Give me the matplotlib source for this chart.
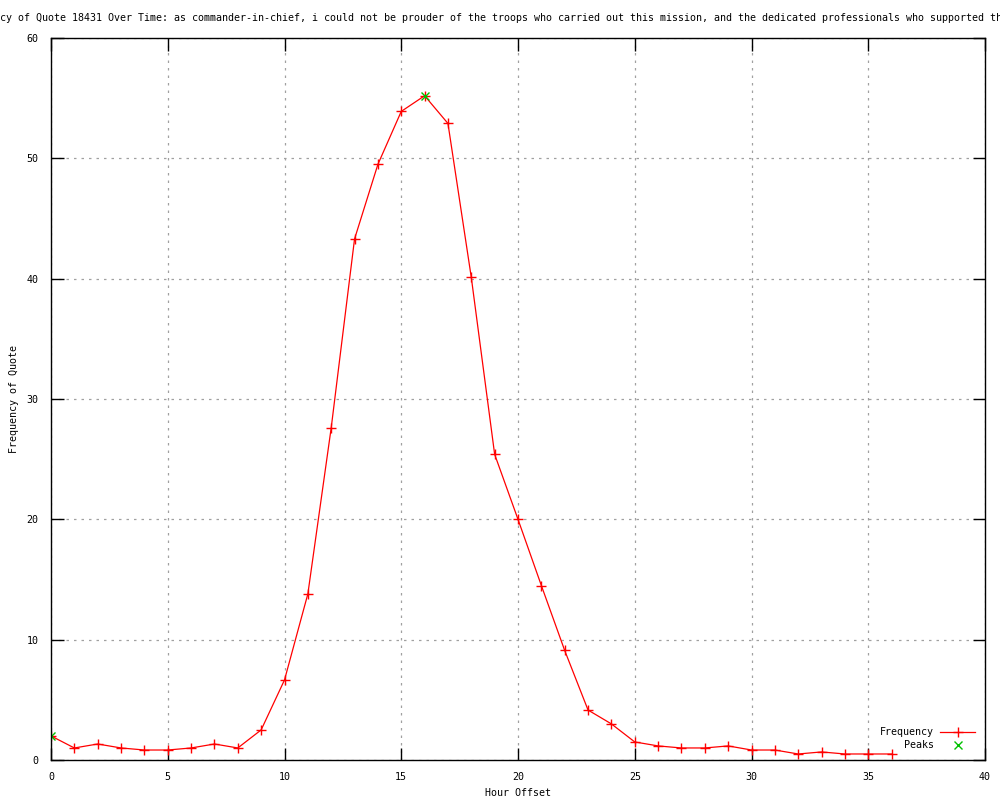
import matplotlib.pyplot as plt
import numpy as np

plt.rcParams['font.family'] = ['DejaVu Sans Mono', 'DejaVu Sans']
plt.rcParams['font.size'] = 7.2

# data
hours = np.arange(0, 37)
freq = [2.0, 1.0, 1.33, 1.0, 0.83, 0.83, 1.0, 1.33, 1.0, 2.5,
        6.65, 13.8, 27.6, 43.3, 49.5, 53.9, 55.2, 52.9, 40.1, 25.4,
        20.0, 14.5, 9.1, 4.15, 3.0, 1.5, 1.17, 1.0, 1.0, 1.17,
        0.83, 0.83, 0.5, 0.67, 0.5, 0.5, 0.5]
peak_hours = [0, 16]
peak_vals = [2.0, 55.2]

title = ("Frequency of Quote 18431 Over Time: as commander-in-chief, i could not be "
         "prouder of the troops who carried out this mission, and the dedicated "
         "professionals who supported them.")

fig = plt.figure(figsize=(10, 8), dpi=100)
ax = fig.add_axes([0.051, 0.05, 0.934, 0.9025])

ax.plot(hours, freq, color='#ff0000', lw=0.9, marker='+', ms=6.5, mew=1.0,
        label='Frequency')
ax.plot(peak_hours, peak_vals, ls='none', color='#00c000', marker='x', ms=5.5,
        mew=1.0, label='Peaks')

ax.set_xlim(0, 40)
ax.set_ylim(0, 60)
ax.set_xticks(np.arange(0, 41, 5))
ax.set_yticks(np.arange(0, 61, 10))
ax.tick_params(direction='in', length=9, width=1, top=True, right=True, pad=9)
ax.grid(True, color='#a0a0a0', ls=(0, (2, 4)), lw=0.9)
for s in ax.spines.values():
    s.set_linewidth(1)

ax.set_xlabel('Hour Offset', va='center')
ax.set_ylabel('Frequency of Quote', va='center')
ax.xaxis.set_label_coords(0.5, -0.046)
ax.yaxis.set_label_coords(-0.0396, 0.5)

# title is wider than the figure, cut at both edges like the reference
fig.text(-0.042, 0.9775, title, ha='left', va='center', fontsize=7.2)

ax.legend(loc='lower right', frameon=False, markerfirst=False, handlelength=3.5,
          borderaxespad=0.6, labelspacing=0.3, handletextpad=0.6)

fig.savefig('out.png', dpi=100)
